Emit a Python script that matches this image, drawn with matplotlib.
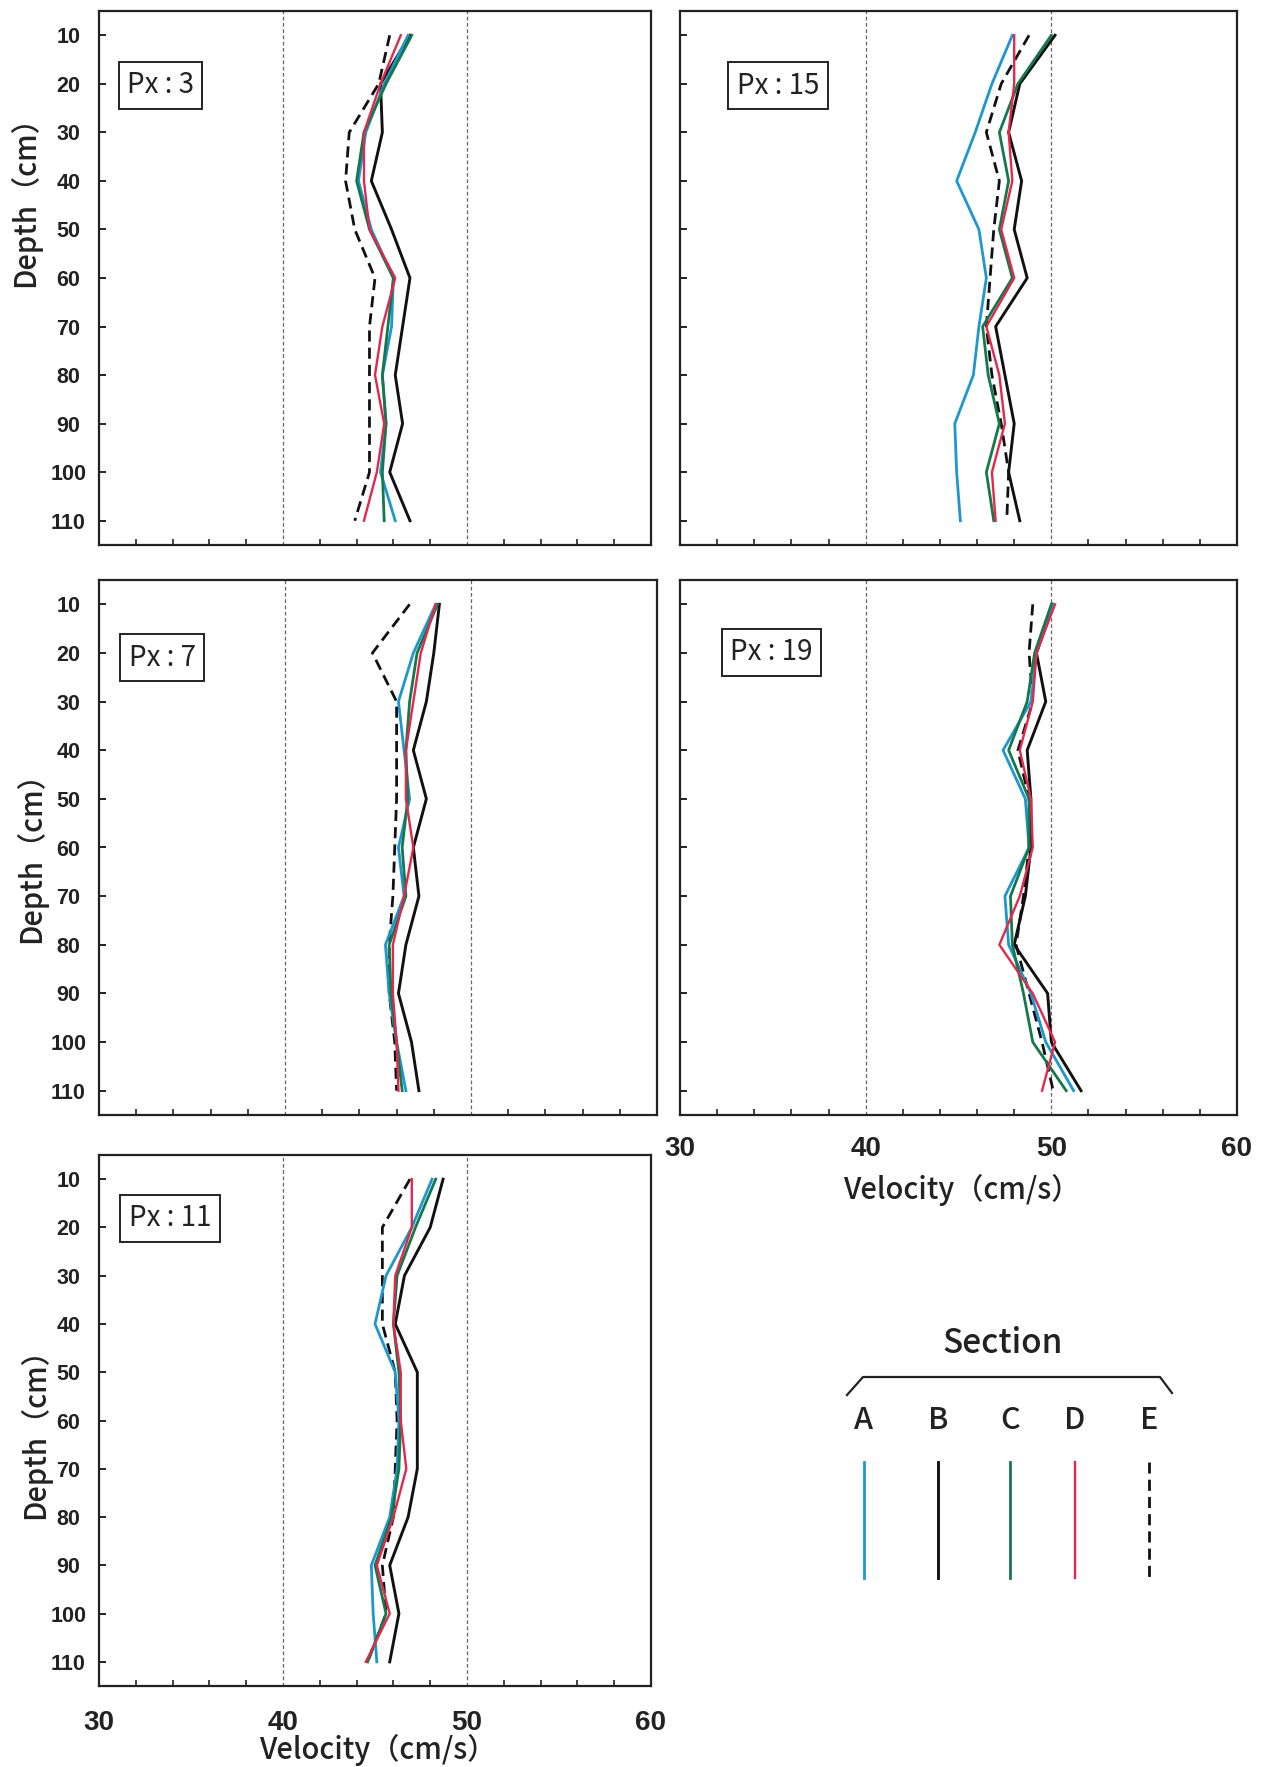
import numpy as np
import matplotlib
matplotlib.use("Agg")
import matplotlib.pyplot as plt
from matplotlib.ticker import MultipleLocator

# depth of each measurement point (cm)
depth = [10, 20, 30, 40, 50, 60, 70, 80, 90, 100, 110]
sections = ["A", "B", "C", "D", "E"]

# velocity (cm/s) at each depth, one list per section, for each Px station
px3_a = [46.8, 45.5, 44.5, 44.1, 44.8, 46.0, 45.9, 45.4, 45.6, 45.3, 46.1]
px3_b = [46.9, 45.3, 45.4, 44.8, 45.9, 46.9, 46.5, 46.1, 46.5, 45.8, 46.9]
px3_c = [47.0, 45.6, 44.4, 44.0, 44.7, 46.0, 45.7, 45.4, 45.6, 45.4, 45.5]
px3_d = [46.4, 45.3, 44.4, 44.4, 44.7, 46.1, 45.4, 45.0, 45.5, 45.1, 44.4]
px3_e = [45.8, 45.2, 43.6, 43.4, 43.9, 45.0, 44.7, 44.7, 44.7, 44.7, 43.9]

px7_a = [48.1, 46.9, 46.1, 46.4, 46.7, 46.1, 46.4, 45.4, 45.6, 46.0, 46.5]
px7_b = [48.3, 48.0, 47.6, 46.9, 47.6, 46.9, 47.2, 46.5, 46.1, 46.8, 47.2]
px7_c = [48.2, 47.1, 46.7, 46.5, 46.6, 46.3, 46.5, 45.6, 45.7, 46.0, 46.3]
px7_d = [48.1, 47.3, 46.9, 46.5, 46.5, 46.9, 46.4, 45.8, 45.8, 46.0, 46.1]
px7_e = [46.7, 44.7, 46.0, 46.0, 46.0, 45.9, 45.8, 45.6, 45.6, 45.9, 46.0]

px11_a = [48.1, 47.0, 45.6, 45.0, 46.1, 46.3, 46.2, 45.8, 44.8, 44.9, 45.1]
px11_b = [48.7, 48.0, 46.6, 46.1, 47.3, 47.3, 47.3, 46.8, 45.8, 46.3, 45.8]
px11_c = [48.3, 47.2, 46.2, 46.0, 46.3, 46.4, 46.3, 45.9, 45.0, 45.6, 44.6]
px11_d = [47.0, 47.0, 46.1, 46.0, 46.4, 46.4, 46.7, 46.0, 45.1, 45.8, 44.5]
px11_e = [46.9, 45.4, 45.4, 45.4, 46.1, 46.2, 46.1, 46.0, 45.4, 45.6, 44.6]

px15_a = [47.9, 46.8, 45.9, 44.9, 46.1, 46.5, 46.1, 45.8, 44.8, 44.9, 45.1]
px15_b = [50.2, 48.3, 47.7, 48.4, 48.0, 48.7, 47.0, 47.5, 48.0, 47.7, 48.3]
px15_c = [50.0, 48.2, 47.2, 47.7, 47.2, 47.9, 46.3, 46.6, 47.2, 46.5, 46.9]
px15_d = [48.0, 48.0, 47.7, 47.9, 47.3, 48.0, 46.5, 47.2, 47.5, 46.8, 47.0]
px15_e = [48.8, 47.3, 46.5, 47.2, 46.9, 46.7, 46.5, 46.8, 47.3, 47.7, 47.6]

px19_a = [50.1, 49.2, 48.9, 47.4, 48.6, 48.8, 47.5, 47.7, 48.9, 49.7, 51.2]
px19_b = [50.1, 49.2, 49.7, 48.7, 48.9, 48.9, 48.6, 48.0, 49.8, 50.0, 51.6]
px19_c = [50.0, 49.1, 48.7, 47.7, 48.8, 48.8, 47.8, 47.9, 48.5, 49.0, 50.8]
px19_d = [50.2, 49.2, 49.0, 48.3, 48.9, 49.0, 48.3, 47.2, 49.0, 50.2, 49.5]
px19_e = [49.0, 48.8, 49.0, 48.2, 48.8, 48.8, 48.5, 48.1, 48.8, 49.5, 50.1]

# line style per section
STYLE = {
    "A": dict(color="#1e96d2", lw=2.0, ls="-"),
    "B": dict(color="#111111", lw=2.1, ls="-"),
    "C": dict(color="#14784a", lw=2.0, ls="-"),
    "D": dict(color="#e3284c", lw=1.7, ls="-"),
    "E": dict(color="#111111", lw=2.0, ls=(0, (4.0, 2.2))),
}
DRAW_ORDER = ["E", "B", "A", "C", "D"]

TICK_FONT = "Liberation Sans"
JP_FONT = ["Noto Sans CJK JP", "DejaVu Sans"]

W, H = 1265, 1767
fig = plt.figure(figsize=(W / 100, H / 100), dpi=100)
fig.patch.set_facecolor("white")


def px_rect(left, top, right, bottom):
    return [left / W, 1 - bottom / H, (right - left) / W, (bottom - top) / H]


panels = [
    # station, profiles, rect, show y labels, show x labels, ylabel y-pos, ylabel x-pos, box y
    (3, [px3_a, px3_b, px3_c, px3_d, px3_e], px_rect(99, 11, 651, 545), True, False, 0.658, -0.134, 0.861),
    (15, [px15_a, px15_b, px15_c, px15_d, px15_e], px_rect(680, 11, 1237, 545), False, False, None, None, 0.860),
    (7, [px7_a, px7_b, px7_c, px7_d, px7_e], px_rect(99, 580, 657, 1115), True, False, 0.495, -0.121, 0.855),
    (19, [px19_a, px19_b, px19_c, px19_d, px19_e], px_rect(680, 580, 1237, 1115), False, True, None, None, 0.865),
    (11, [px11_a, px11_b, px11_c, px11_d, px11_e], px_rect(99, 1155, 651, 1686), True, True, 0.49, -0.116, 0.881),
]
box_left = {3: 0.038, 15: 0.089, 7: 0.04, 19: 0.077, 11: 0.041}
xlabel_y = {19: -0.14, 11: -0.121}
xtick_pad = {19: 15, 11: 17}

for station, profiles, rect, ylab, xlab, ly, lx, by in panels:
    ax = fig.add_axes(rect)
    for sec in DRAW_ORDER:
        vals = profiles[sections.index(sec)]
        ax.plot(vals, depth, **STYLE[sec], zorder=3)

    ax.axvline(40, color="#666666", lw=0.9, ls=(0, (3, 2)), zorder=1)
    ax.axvline(50, color="#666666", lw=0.9, ls=(0, (3, 2)), zorder=1)

    ax.set_xlim(30, 60)
    ax.set_ylim(115, 5)

    for sp in ax.spines.values():
        sp.set_linewidth(1.6)
        sp.set_color("#222222")

    ax.set_yticks(depth)
    ax.xaxis.set_major_locator(MultipleLocator(10))
    ax.xaxis.set_minor_locator(MultipleLocator(2))
    ax.tick_params(axis="y", direction="in", length=5, width=1.4, color="#222222",
                   left=True, right=False, pad=22, labelleft=ylab)
    ax.tick_params(axis="x", which="both", direction="in", length=4, width=1.2,
                   color="#222222", top=False, pad=xtick_pad.get(station, 15),
                   labelbottom=xlab)
    ax.tick_params(axis="x", which="major", length=0)

    if ylab:
        for t in ax.get_yticklabels():
            t.set_fontfamily(TICK_FONT)
            t.set_fontweight("bold")
            t.set_fontsize(15.5)
            t.set_ha("center")
            t.set_color("#222222")
        ax.set_ylabel("Depth（cm）", family=JP_FONT, fontsize=21, color="#222222",
                      weight="medium")
        ax.yaxis.set_label_coords(lx, ly)
        ax.yaxis.label.set_va("center")
    if xlab:
        for t in ax.get_xticklabels():
            t.set_fontfamily(TICK_FONT)
            t.set_fontweight("bold")
            t.set_fontsize(20)
            t.set_color("#222222")
        ax.set_xlabel("Velocity（cm/s）", family=JP_FONT, fontsize=21, color="#222222",
                      weight="medium")
        ax.xaxis.set_label_coords(0.505, xlabel_y[station])
        ax.xaxis.label.set_va("center")

    ax.text(box_left[station] + 0.013, by, f"Px : {station}", transform=ax.transAxes,
            ha="left", va="center", family=JP_FONT, fontsize=20, color="#222222",
            bbox=dict(boxstyle="square,pad=0.3", fc="white", ec="#222222", lw=1.4),
            zorder=5)

# section key in the empty lower-right corner
key = fig.add_axes([0, 0, 1, 1], facecolor="none")
key.set_xlim(0, W)
key.set_ylim(H, 0)
key.axis("off")
key.text(1003, 1343, "Section", ha="center", va="center", family=JP_FONT,
         fontsize=24, color="#222222", weight="medium")
key.plot([847, 863, 1160, 1172], [1395, 1377, 1377, 1393], color="#222222", lw=1.6)
key_x = [864, 938, 1010, 1075, 1149]
for sec, x in zip(sections, key_x):
    key.text(x, 1420, sec, ha="center", va="center", family=JP_FONT,
             fontsize=22, color="#222222", weight="medium")
    key.plot([x, x], [1462, 1578], **STYLE[sec])

fig.savefig("out.png", dpi=100, facecolor="white")
